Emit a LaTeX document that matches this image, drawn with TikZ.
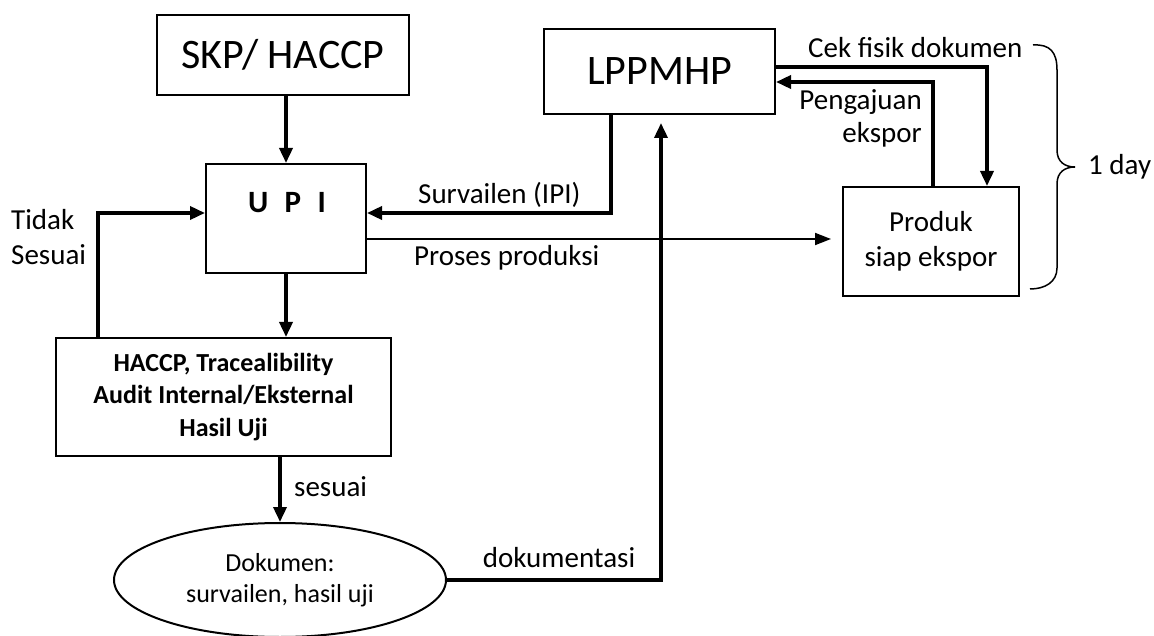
\documentclass[tikz,border=0pt]{standalone}
\usepackage{fontspec}
\setmainfont{Carlito}
\usetikzlibrary{arrows.meta,positioning,calc,shapes.geometric}

\tikzset{
  box/.style={draw,line width=2pt,inner sep=0pt},
  big/.style={font=\fontsize{42}{50}\selectfont},
  lbl/.style={font=\fontsize{29}{35}\selectfont,inner sep=0pt},
  heavy/.style={line width=3.5pt,-{Triangle[length=15pt,width=13pt]}},
  light/.style={line width=1.8pt,-{Triangle[length=16pt,width=12pt]}}
}

\begin{document}
\begin{tikzpicture}[x=1pt,y=-1pt]
  \useasboundingbox (0,0) rectangle (1154,636);

  % boxes
  \node[box,big,minimum width=252pt,minimum height=80pt] (skp) at (283,55) {SKP/ HACCP};
  \node[box,minimum width=160pt,minimum height=109pt] (upi) at (286,218.5) {};
  \node[font=\bfseries\fontsize{31}{37}\selectfont] (upitxt) at (287,203) {U\hspace{.53em}P\hspace{.53em}I};
  \node[box,big,minimum width=231pt,minimum height=85pt] (lppmhp) at (659.5,71.5) {LPPMHP};
  \node[box,lbl,align=center,minimum width=176pt,minimum height=109pt] (produk) at (931,241.5) {Produk\\siap ekspor};
  \node[box,align=center,font=\bfseries\fontsize{26}{32.5}\selectfont,
        minimum width=335pt,minimum height=118pt] (haccp) at (223.5,397)
        {HACCP, Tracealibility\\Audit Internal/Eksternal\\Hasil Uji};
  \node[box,ellipse,align=center,font=\fontsize{26}{31}\selectfont,
        minimum width=332pt,minimum height=114pt] (dok) at (280,580)
        {Dokumen:\\survailen, hasil uji};

  % arrows
  \draw[heavy] (upi.north |- skp.south) -- (upi.north);
  \draw[heavy] ($(haccp.north west)+(43,0)$) |- ([yshift=5.5pt]upi.west);
  \draw[heavy] ([xshift=-48.5pt]lppmhp.south) |- ([yshift=5.5pt]upi.east);
  \draw[light,shorten >=11pt] ([yshift=-20.5pt]upi.east) -- ([yshift=2.5pt]produk.west);
  \draw[heavy] (upi.south) -- (upi.south |- haccp.north);
  \draw[heavy] (dok.north |- haccp.south) -- (dok.north);
  \draw[heavy,shorten >=8pt] (dok.east) -| ([xshift=1.5pt]lppmhp.south);
  \draw[heavy] ([yshift=4.5pt]lppmhp.east) -| ([xshift=56pt]produk.north);
  \draw[heavy] ([xshift=2pt]produk.north) |- ([yshift=-10.5pt]lppmhp.east);

  % labels
  \node[lbl,anchor=west] (survlbl) at (418,195) {Survailen (IPI)};
  \node[lbl,anchor=west] (proseslbl) at (414,258) {Proses produksi};
  \node[lbl,anchor=west,align=left] (tidaklbl) at (11,237.5) {Tidak\\Sesuai};
  \node[lbl,anchor=west] (sesuailbl) at (294,487) {sesuai};
  \node[lbl] (doklbl) at (559,558) {dokumentasi};
  \node[lbl,anchor=west] (ceklbl) at (808,48) {Cek fisik dokumen};
  \node[lbl,anchor=east,align=right,font=\fontsize{29}{33}\selectfont] (ajulbl) at (922,118.5) {Pengajuan\\ekspor};
  \node[lbl,anchor=west] (daylbl) at (1088,167) {1 day};

  % brace
  \coordinate (bracetip) at (1075,167);
  \draw[line width=1.5pt] (1033,45) .. controls (1050,44) and (1057,52) .. (1057,70)
    -- (1057,150) .. controls (1057,162) and (1065,167) .. (bracetip)
    .. controls (1065,167) and (1057,172) .. (1057,184)
    -- (1057,268) .. controls (1057,282) and (1045,289) .. (1030,289);
\end{tikzpicture}
\end{document}
